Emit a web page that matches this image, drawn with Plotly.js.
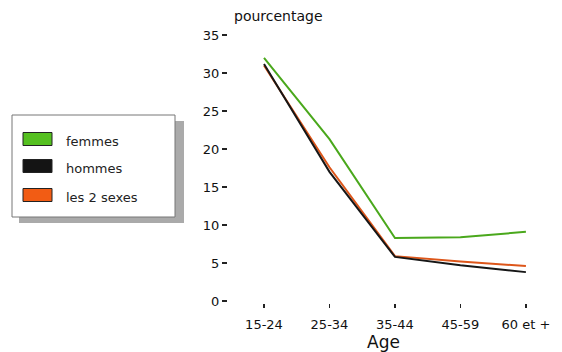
<!DOCTYPE html>
<html>
<head>
<meta charset="utf-8">
<script src="https://cdn.plot.ly/plotly-3.0.1.min.js"></script>
<style>
html,body{margin:0;padding:0;background:#fff;}
#chart{width:562px;height:352px;}
</style>
</head>
<body>
<div id="chart"></div>
<script>
// Data
const ageGroups = ["15-24", "25-34", "35-44", "45-59", "60 et +"];
const femmes = [32.0, 21.3, 8.3, 8.4, 9.1];
const hommes = [31.2, 17.0, 5.8, 4.7, 3.8];
const deuxSexes = [31.0, 17.6, 5.9, 5.2, 4.6];
const seriesNames = ["femmes", "hommes", "les 2 sexes"];
const yTicks = [0, 5, 10, 15, 20, 25, 30, 35];

// Styles
const lineColors = ["#4aa81c", "#161616", "#dd561a"];
const swatchColors = ["#55c020", "#141414", "#f25c14"];

const W = 562, H = 352;
const M = {l: 228, r: 23, t: 24, b: 49};
const pw = W - M.l - M.r, ph = H - M.t - M.b;
const px = x => (x - M.l) / pw;
const py = y => (H - M.b - y) / ph;

const series = [femmes, hommes, deuxSexes];
const order = [2, 0, 1];
const traces = order.map(i => ({
  type: "scatter", mode: "lines",
  x: ageGroups, y: series[i], name: seriesNames[i],
  line: {color: lineColors[i], width: 2},
  showlegend: false, hoverinfo: "skip"
}));

const font = "DejaVu Sans, sans-serif";
const shapes = [];
const annotations = [];

// legend box with shadow
shapes.push({type: "rect", xref: "paper", yref: "paper",
  x0: px(19), x1: px(184), y0: py(121), y1: py(223),
  fillcolor: "#aaaaaa", line: {width: 0}, layer: "above"});
shapes.push({type: "rect", xref: "paper", yref: "paper",
  x0: px(12), x1: px(175), y0: py(115), y1: py(217),
  fillcolor: "#ffffff", line: {color: "#777", width: 1}, layer: "above"});
const swY = [139, 166, 195];
seriesNames.forEach((n, i) => {
  shapes.push({type: "rect", xref: "paper", yref: "paper",
    x0: px(23), x1: px(52), y0: py(swY[i] - 6.5), y1: py(swY[i] + 6.5),
    fillcolor: swatchColors[i], line: {color: "#222", width: 1}, layer: "above"});
  annotations.push({xref: "paper", yref: "paper", x: px(64), y: py(swY[i] + 2),
    xanchor: "left", yanchor: "middle", showarrow: false, text: n,
    font: {family: font, size: 13, color: "#222"}});
});

annotations.push({xref: "paper", yref: "paper", x: px(232), y: py(16),
  xanchor: "left", yanchor: "middle", showarrow: false, text: "pourcentage",
  font: {family: font, size: 14, color: "#111"}});

const layout = {
  width: W, height: H,
  margin: M,
  paper_bgcolor: "#fff", plot_bgcolor: "#fff",
  showlegend: false,
  xaxis: {
    type: "category", range: [-0.55, 4.2],
    showgrid: false, zeroline: false, showline: false,
    ticks: "outside", ticklen: 4, tickwidth: 1.5, tickcolor: "#222",
    ticklabelstandoff: 5,
    tickfont: {family: font, size: 13, color: "#111"},
    title: {text: "Age", standoff: 6, font: {family: font, size: 17, color: "#111"}}
  },
  yaxis: {
    range: [-0.263, 36.45], tickvals: yTicks,
    showgrid: false, zeroline: false, showline: false,
    ticks: "outside", ticklen: 5, tickwidth: 1.5, tickcolor: "#222",
    tickfont: {family: font, size: 13, color: "#111"}
  },
  shapes: shapes,
  annotations: annotations
};

Plotly.newPlot("chart", traces, layout, {staticPlot: true, displayModeBar: false});
</script>
</body>
</html>
